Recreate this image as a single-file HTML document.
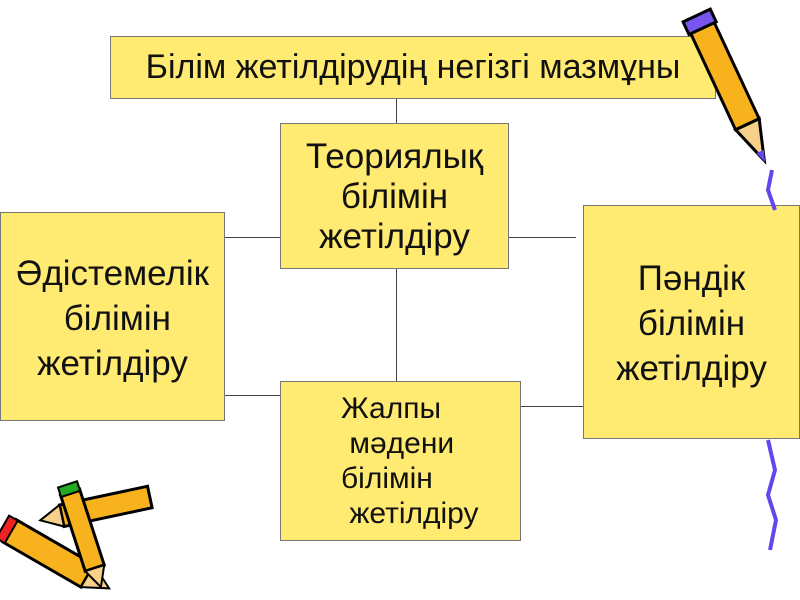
<!DOCTYPE html>
<html><head><meta charset="utf-8"><style>
body{margin:0;width:800px;height:600px;background:#fff;position:relative;overflow:hidden;font-family:"Liberation Sans",sans-serif;}
.b{position:absolute;background:#ffeb72;border:1px solid #777;box-sizing:border-box;color:#111;text-align:center;white-space:nowrap;}
.l{position:absolute;background:#444;}
</style></head><body>
<div class="l" style="left:396px;top:98px;width:1px;height:283px"></div>
<div class="l" style="left:224px;top:237px;width:56px;height:1px"></div>
<div class="l" style="left:508px;top:237px;width:68px;height:1px"></div>
<div class="l" style="left:224px;top:395px;width:64px;height:1px"></div>
<div class="l" style="left:520px;top:406px;width:63px;height:1px"></div>

<div class="b" style="left:110px;top:36px;width:606px;height:63px;font-size:34px;line-height:61px">Білім жетілдірудің негізгі мазмұны</div>
<div class="b" style="left:280px;top:123px;width:229px;height:146px;font-size:35px;line-height:40px;padding-top:13px">Теориялық<br>білімін<br>жетілдіру</div>
<div class="b" style="left:0;top:212px;width:225px;height:209px;font-size:35px;line-height:45px;padding-top:38px">Әдістемелік<br>&nbsp;білімін<br>жетілдіру</div>
<div class="b" style="left:583px;top:205px;width:217px;height:234px;font-size:35px;line-height:45px;padding-top:50px">Пәндік<br>білімін<br>жетілдіру</div>
<div class="b" style="left:280px;top:381px;width:241px;height:160px;font-size:30px;line-height:35px;padding-top:9px;text-align:left;padding-left:60px">Жалпы<br>&nbsp;мәдени<br>білімін<br>&nbsp;жетілдіру</div>

<svg style="position:absolute;left:0;top:0" width="800" height="600">
<path d="M772 170 L768 190 L775 210" stroke="#6644ee" stroke-width="4" fill="none"/>
<path d="M768 440 L775 470 L768 495 L776 520 L770 550" stroke="#6644ee" stroke-width="4" fill="none"/>
<g transform="translate(700,25) rotate(-25)">
<rect x="-12" y="0" width="26" height="110" fill="#f7b21e" stroke="#000" stroke-width="3"/>
<rect x="-14" y="-10" width="30" height="14" fill="#7755ee" stroke="#000" stroke-width="3"/>
<path d="M-12 110 L1 150 L14 110 Z" fill="#f7d08a" stroke="#000" stroke-width="3"/>
<path d="M-3 140 L1 152 L5 140Z" fill="#6644ee"/>
</g>
<g transform="translate(10,530) rotate(30)">
<rect x="0" y="-12" width="90" height="26" fill="#f7b21e" stroke="#000" stroke-width="3"/>
<rect x="-8" y="-12" width="10" height="26" fill="#e22" stroke="#000" stroke-width="2"/>
<path d="M90 -12 L115 1 L90 14Z" fill="#f7d08a" stroke="#000" stroke-width="2"/>
</g>
<g transform="translate(150,498) rotate(168)">
<rect x="0" y="-10" width="90" height="22" fill="#f7b21e" stroke="#000" stroke-width="3"/>
<path d="M90 -10 L112 1 L90 12Z" fill="#f7d08a" stroke="#000" stroke-width="2"/>
</g>
<g transform="translate(70,492) rotate(72)">
<rect x="0" y="-10" width="80" height="20" fill="#f7b21e" stroke="#000" stroke-width="3"/>
<rect x="-8" y="-10" width="10" height="20" fill="#2a2" stroke="#000" stroke-width="2"/>
<path d="M80 -10 L100 0 L80 10Z" fill="#f7d08a" stroke="#000" stroke-width="2"/>
</g>
</svg>
</body></html>
